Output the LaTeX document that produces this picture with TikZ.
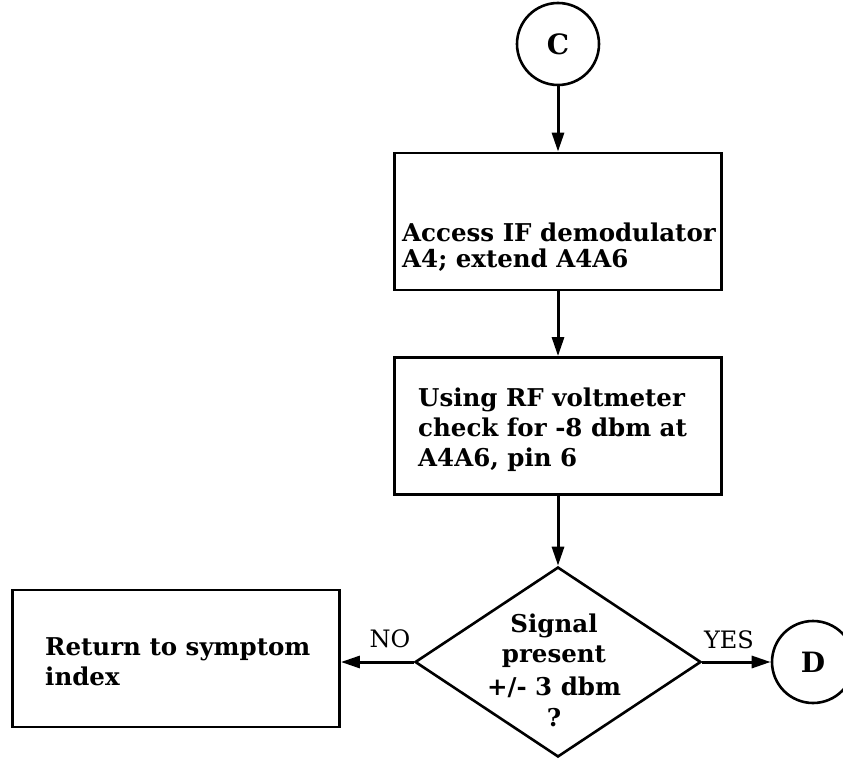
\documentclass[tikz,border=0pt]{standalone}
\usepackage{fontspec}
\setmainfont{DejaVu Serif}
\usetikzlibrary{shapes.geometric,arrows.meta}
\begin{document}
\begin{tikzpicture}[x=1pt,y=-1pt,
  box/.style={draw, line width=2.8pt, minimum width=327pt, minimum height=137pt, inner sep=0pt},
  term/.style={draw, circle, line width=2.6pt, minimum size=82pt, inner sep=0pt, font=\fontsize{28}{30}\selectfont\bfseries},
  dia/.style={draw, diamond, line width=2.6pt, minimum width=286pt, minimum height=190pt, inner sep=0pt},
  txt/.style={anchor=base west, inner sep=0pt, font=\fontsize{24.5}{29}\selectfont\bfseries},
  ctxt/.style={anchor=base, inner sep=0pt, font=\fontsize{24.5}{29}\selectfont\bfseries},
  lbl/.style={anchor=base, inner sep=0pt, font=\fontsize{24}{26}\selectfont},
  arr/.style={line width=3pt, -{Triangle[length=19pt,width=12pt]}}]
\useasboundingbox (0,0) rectangle (843,759);
% nodes
\node[term] (c) at (558,44) {C};
\node[box] (b1) at (558,221.5) {};
\node[txt] (b1a) at (402,242) {Access IF demodulator};
\node[txt] (b1b) at (402,268) {A4; extend A4A6};
\node[box] (b2) at (558,426) {};
\node[txt] (b2a) at (418,406) {Using RF voltmeter};
\node[txt] (b2b) at (418,436) {check for -8 dbm at};
\node[txt] (b2c) at (418,466) {A4A6, pin 6};
\node[dia] (dec) at (558,662) {};
\node[ctxt] (d1) at (554,632) {Signal};
\node[ctxt] (d2) at (554,662) {present};
\node[ctxt] (d3) at (554,695) {+/- 3 dbm};
\node[ctxt] (d4) at (554,726) {?};
\node[box] (b3) at (176,658.5) {};
\node[txt] (b3a) at (45,655) {Return to symptom};
\node[txt] (b3b) at (45,685) {index};
\node[term] (d) at (813,662) {D};
\node[lbl] (no) at (390,647) {NO};
\node[lbl] (yes) at (729,648) {YES};
% connectors
\draw[arr] (c) -- (b1);
\draw[arr] (b1) -- (b2);
\draw[arr] (b2) -- (dec);
\draw[arr] (dec.west) -- (b3.east |- dec.west);
\draw[arr] (dec.east) -- (d);
\end{tikzpicture}
\end{document}
